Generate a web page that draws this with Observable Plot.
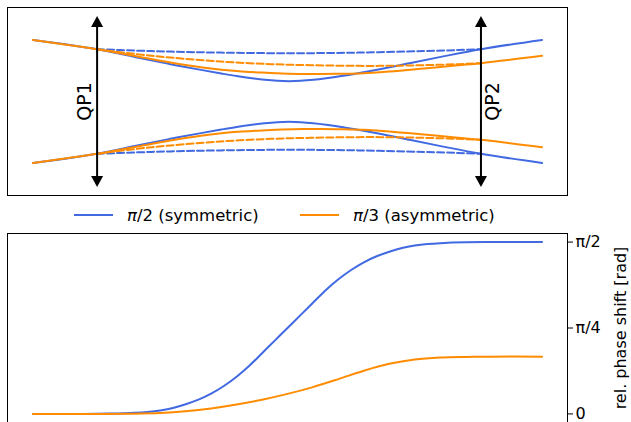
<!DOCTYPE html>
<html>
<head>
<meta charset="utf-8">
<script src="https://cdn.jsdelivr.net/npm/d3@7"></script>
<script src="https://cdn.jsdelivr.net/npm/@observablehq/plot@0.6"></script>
<style>
  html, body { margin: 0; padding: 0; background: white; }
  body { width: 631px; font-family: "DejaVu Sans", sans-serif; }
  #legend { position: relative; width: 631px; height: 30px; font-size: 16.5px; color: black; }
  .item { position: absolute; top: 0; height: 30px; display: flex; align-items: center; }
  .swatch { width: 39px; height: 0; border-top: 2px solid; margin-right: 14px; }
  svg { display: block; }
</style>
</head>
<body>
<div id="topPanel"></div>
<div id="legend"></div>
<div id="bottomPanel"></div>
<script>
// ---------- data ----------
const BLUE = "#4169e1";
const ORANGE = "#ff8c00";

// quadrupole (QP) positions along the axis, arrow half-length
const qpX = [12.6, 88];
const qpLabels = ["QP1", "QP2"];
const qpExtent = 1;

// beam envelopes (upper branch; lower branch is the mirrored envelope)
const blueSolidX = [0, 12.6, 20.5, 27, 33, 37, 40, 43, 45.5, 48, 50.3, 52.6, 55.1, 57.6, 60.6, 63.6, 67.6, 73.6, 80.1, 88, 100];
const blueSolidR = [0.720, 0.612, 0.516, 0.437, 0.370, 0.328, 0.298, 0.272, 0.254, 0.242, 0.238, 0.242, 0.254, 0.272, 0.298, 0.328, 0.372, 0.444, 0.522, 0.612, 0.720];

const blueDashX = [12.6, 20.5, 27, 36.9, 50.3, 63.8, 76.8, 83.5, 88];
const blueDashR = [0.612, 0.595, 0.584, 0.572, 0.565, 0.572, 0.590, 0.602, 0.612];

const orangeSolidX = [0, 12.6, 20.5, 27, 33, 37, 41, 45, 49, 53, 57, 61, 65, 70, 76.8, 83.5, 88, 100];
const orangeSolidR = [0.720, 0.612, 0.527, 0.456, 0.400, 0.372, 0.352, 0.338, 0.329, 0.323, 0.322, 0.325, 0.332, 0.350, 0.386, 0.424, 0.449, 0.534];

const orangeDashX = [12.6, 20.5, 27, 36.9, 46.7, 54.6, 63.8, 70.3, 76.8, 83.5, 88];
const orangeDashR = [0.612, 0.553, 0.514, 0.467, 0.437, 0.425, 0.417, 0.418, 0.425, 0.437, 0.449];

// relative phase shift [rad]
const phaseBlueX = [0, 10, 15, 17.5, 20, 22.5, 25, 27.5, 30, 32.5, 35, 37.5, 40, 42.5, 45, 47.5, 50, 52.5, 55, 57.5, 60, 62.5, 65, 67.5, 70, 72.5, 75, 77.5, 80, 85, 90, 100];
const phaseBlueY = [0, 0, 0.003, 0.006, 0.010, 0.018, 0.032, 0.054, 0.088, 0.130, 0.185, 0.255, 0.340, 0.440, 0.555, 0.670, 0.785, 0.901, 1.016, 1.131, 1.231, 1.316, 1.386, 1.441, 1.483, 1.517, 1.539, 1.553, 1.561, 1.569, 1.5708, 1.5708];

const phaseOrangeX = [0, 10, 20, 25, 30, 35, 40, 45, 50, 55, 60, 65, 70, 75, 80, 85, 90, 100];
const phaseOrangeY = [0, 0, 0.002, 0.008, 0.024, 0.050, 0.086, 0.130, 0.183, 0.245, 0.318, 0.395, 0.458, 0.497, 0.515, 0.521, 0.5236, 0.5236];

const phaseTicks = [0, Math.PI / 4, Math.PI / 2];
const phaseTickLabels = ["0", "π/4", "π/2"];
const phaseLabel = "rel. phase shift [rad]";

const legendItems = [
  {color: BLUE, frac: "2", rest: " (symmetric)"},
  {color: ORANGE, frac: "3", rest: " (asymmetric)"}
];

// ---------- helpers ----------
const zip = (X, Y) => X.map((x, i) => ({x, r: Y[i]}));
function envelope(X, R, color, dash) {
  const data = zip(X, R);
  const opts = {x: "x", stroke: color, strokeWidth: 2, curve: "catmull-rom", strokeDasharray: dash};
  return [
    Plot.line(data, {...opts, y: "r"}),
    Plot.line(data, {...opts, y: d => -d.r})
  ];
}
const headUp = {draw(ctx) { ctx.moveTo(0, 0); ctx.lineTo(-6, 11); ctx.lineTo(6, 11); ctx.closePath(); }};
const headDown = {draw(ctx) { ctx.moveTo(0, 0); ctx.lineTo(-6, -11); ctx.lineTo(6, -11); ctx.closePath(); }};

const qpData = qpX.map((x, i) => ({x, label: qpLabels[i]}));
const xDomain = [-5, 105];
const plotStyle = {fontFamily: "DejaVu Sans", fontSize: "16px", background: "white", color: "black"};

// ---------- top panel ----------
const topChart = Plot.plot({
  width: 631, height: 200,
  marginTop: 7, marginBottom: 5, marginLeft: 7, marginRight: 64,
  style: plotStyle,
  x: {domain: xDomain, axis: null},
  y: {domain: [-1.1, 1.1], axis: null},
  marks: [
    ...envelope(blueSolidX, blueSolidR, BLUE, null),
    ...envelope(blueDashX, blueDashR, BLUE, "7,3"),
    ...envelope(orangeSolidX, orangeSolidR, ORANGE, null),
    ...envelope(orangeDashX, orangeDashR, ORANGE, "7,3"),
    Plot.ruleX(qpData, {x: "x", y1: -qpExtent * 0.9, y2: qpExtent * 0.9, stroke: "black", strokeWidth: 2}),
    Plot.dot(qpData, {x: "x", y: qpExtent, symbol: headUp, fill: "black", stroke: "none", r: 5}),
    Plot.dot(qpData, {x: "x", y: -qpExtent, symbol: headDown, fill: "black", stroke: "none", r: 5}),
    Plot.text(qpData.slice(0, 1), {x: "x", y: 0, text: "label", rotate: -90, dx: -12, fontSize: 19, fontFamily: "DejaVu Sans"}),
    Plot.text(qpData.slice(1), {x: "x", y: 0, text: "label", rotate: -90, dx: 12, fontSize: 19, fontFamily: "DejaVu Sans"}),
    Plot.frame({stroke: "black", strokeWidth: 1})
  ]
});
document.getElementById("topPanel").appendChild(topChart);

// ---------- legend ----------
const legendDiv = document.getElementById("legend");
const legendLefts = [74, 300];
legendItems.forEach((it, i) => {
  const div = document.createElement("div");
  div.className = "item";
  div.style.left = legendLefts[i] + "px";
  const sw = document.createElement("span");
  sw.className = "swatch";
  sw.style.borderTopColor = it.color;
  const txt = document.createElement("span");
  txt.innerHTML = `<i>π</i>/${it.frac}${it.rest}`;
  div.appendChild(sw);
  div.appendChild(txt);
  legendDiv.appendChild(div);
});

// ---------- bottom panel ----------
const bottomChart = Plot.plot({
  width: 631, height: 200,
  marginTop: 3, marginBottom: 8, marginLeft: 7, marginRight: 64,
  style: plotStyle,
  x: {domain: xDomain, axis: null},
  y: {domain: [-0.0785, 1.6493], axis: null},
  marks: [
    Plot.line(zip(phaseBlueX, phaseBlueY), {x: "x", y: "r", stroke: BLUE, strokeWidth: 2, curve: "catmull-rom"}),
    Plot.line(zip(phaseOrangeX, phaseOrangeY), {x: "x", y: "r", stroke: ORANGE, strokeWidth: 2, curve: "catmull-rom"}),
    Plot.frame({stroke: "black", strokeWidth: 1}),
    Plot.axisY(phaseTicks, {
      anchor: "right", tickSize: 5, tickPadding: 3, fontSize: 16, label: null,
      tickFormat: d => phaseTickLabels[phaseTicks.indexOf(d)]
    }),
    Plot.text([phaseLabel], {frameAnchor: "right", text: d => d, rotate: -90, dx: 53, textAnchor: "middle", fontSize: 16})
  ]
});
document.getElementById("bottomPanel").appendChild(bottomChart);
</script>
</body>
</html>
